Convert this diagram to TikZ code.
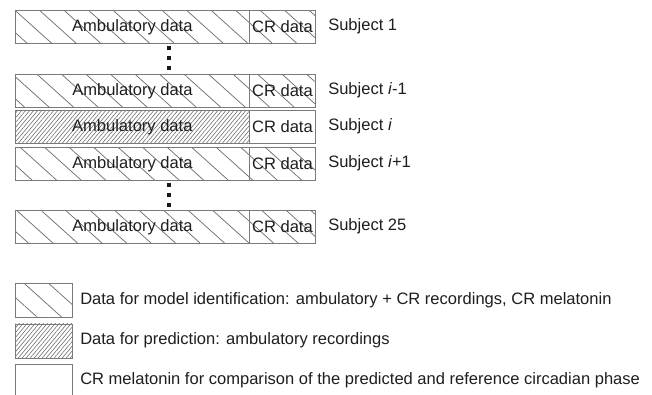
\documentclass[tikz,border=0pt]{standalone}
\usepackage{fontspec}
\setmainfont{Liberation Sans}
\usetikzlibrary{patterns.meta}
\definecolor{boxgray}{HTML}{7A7A7A}
\definecolor{hatchgray}{HTML}{6E6E6E}
\definecolor{txt}{HTML}{1E1E1E}
\begin{document}
\begin{tikzpicture}[x=0.75pt,y=-0.75pt,
  every node/.style={text=txt, font=\fontsize{12.4}{14}\selectfont},
  cell/.style={draw=boxgray, line width=0.7pt, inner sep=0pt, anchor=north west, minimum height=24.75pt},
  ident/.style={cell, pattern={Lines[distance=12.3pt, angle=-42, line width=0.55pt]}, pattern color=hatchgray},
  pred/.style={cell, pattern={Lines[distance=2.3pt, angle=50, line width=0.45pt]}, pattern color=hatchgray},
  plain/.style={cell, fill=white},
  amb/.style={minimum width=175.5pt},
  cr/.style={minimum width=49.5pt},
  leg/.style={cell, minimum width=42.75pt, minimum height=25.5pt},
  subj/.style={anchor=west, inner sep=0pt},
  legtxt/.style={anchor=west, inner sep=0pt},
  vdot/.style={fill=black!90, inner sep=0pt, minimum size=3pt}
]
\useasboundingbox (0,0) rectangle (652,394);
% rows
\node[ident,amb] (a1) at (15,10) {Ambulatory data};
\node[ident,cr]  (c1) at (249,10) {CR data};
\node[subj] (s1) at (328,26.5) {Subject 1};

\node[ident,amb] (a2) at (15,74) {Ambulatory data};
\node[ident,cr]  (c2) at (249,74) {CR data};
\node[subj] (s2) at (328,90.5) {Subject \textit{i}-1};

\node[pred,amb] (a3) at (15,110) {Ambulatory data};
\node[plain,cr] (c3) at (249,110) {CR data};
\node[subj] (s3) at (328,126.5) {Subject \textit{i}};

\node[ident,amb] (a4) at (15,147) {Ambulatory data};
\node[ident,cr]  (c4) at (249,147) {CR data};
\node[subj] (s4) at (328,163.5) {Subject \textit{i}+1};

\node[ident,amb] (a5) at (15,210) {Ambulatory data};
\node[ident,cr]  (c5) at (249,210) {CR data};
\node[subj] (s5) at (328,226.5) {Subject 25};

% vertical dots
\node[vdot] (d1) at (168.5,48) {};
\node[vdot] (d2) at (168.5,58) {};
\node[vdot] (d3) at (168.5,68) {};
\node[vdot] (d4) at (168.5,184.5) {};
\node[vdot] (d5) at (168.5,195) {};
\node[vdot] (d6) at (168.5,205) {};

% legend
\node[ident,leg] (l1) at (15,283) {};
\node[legtxt] (t1) at (80,300) {Data for model identification: ambulatory + CR recordings, CR melatonin};
\node[pred,leg] (l2) at (15,323.5) {};
\node[legtxt] (t2) at (80,340.5) {Data for prediction: ambulatory recordings};
\node[plain,leg,minimum height=30pt] (l3) at (15,364) {};
\node[legtxt] (t3) at (80,380.5) {CR melatonin for comparison of the predicted and reference circadian phase};
\end{tikzpicture}
\end{document}
